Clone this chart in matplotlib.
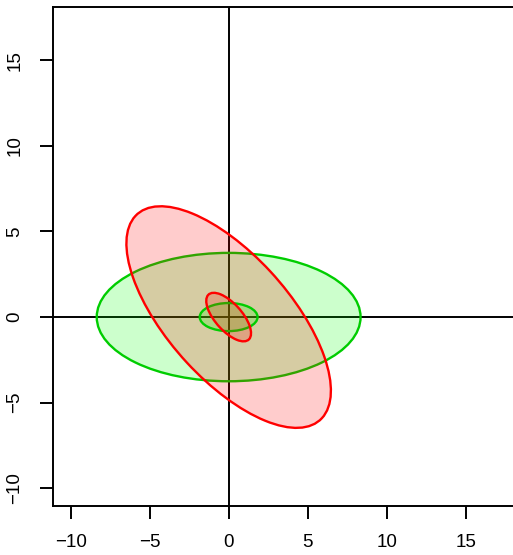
import numpy as np
import matplotlib.pyplot as plt
from matplotlib.patches import Ellipse

# ellipse half-axes (x, y) before rotation, and rotation angle in degrees
semi_a = [8.35, 8.35, 1.83, 1.83]
semi_b = [3.75, 3.75, 0.82, 0.82]
angles = [0, -45, 0, -45]
edge_cols = ["#00CD00", "#FF0000", "#00CD00", "#FF0000"]
fill_cols = [(0, 1, 0, 0.2), (1, 0, 0, 0.2), (0, 1, 0, 0.2), (1, 0, 0, 0.2)]

xticks = [-10, -5, 0, 5, 10, 15]
yticks = [-10, -5, 0, 5, 10, 15]

plt.rcParams["font.family"] = ["Liberation Sans", "DejaVu Sans"]

fig = plt.figure(figsize=(5.13, 5.55), dpi=100)
ax = fig.add_axes([0.1039, 0.0888, 0.8961, 0.8991])
ax.set_xlim(-11.1, 18.0)
ax.set_ylim(-11.02, 18.13)

# coordinate axes through the origin
ax.axhline(0, color="black", lw=1.4, zorder=1)
ax.axvline(0, color="black", lw=1.4, zorder=1)

for a, b, ang, ec, fc in zip(semi_a, semi_b, angles, edge_cols, fill_cols):
    ax.add_patch(Ellipse((0, 0), 2 * a, 2 * b, angle=ang,
                         facecolor=fc, edgecolor="none", zorder=2))
    ax.add_patch(Ellipse((0, 0), 2 * a, 2 * b, angle=ang,
                         facecolor="none", edgecolor=ec, lw=1.7, zorder=2))

ax.set_xticks(xticks)
ax.set_xticklabels([str(v).replace("-", "\u2212") for v in xticks], fontsize=13.5)
ax.set_yticks(yticks)
ax.set_yticklabels([str(v).replace("-", "\u2212") for v in yticks], fontsize=13.5,
                   rotation=90, va="center")
ax.tick_params(axis="both", length=9.6, width=1.4, direction="out")
ax.tick_params(axis="x", pad=11)
ax.tick_params(axis="y", pad=12)

for side in ["left", "bottom", "top"]:
    ax.spines[side].set_linewidth(1.4)
ax.spines["right"].set_visible(False)

fig.savefig("out.png", dpi=100)
